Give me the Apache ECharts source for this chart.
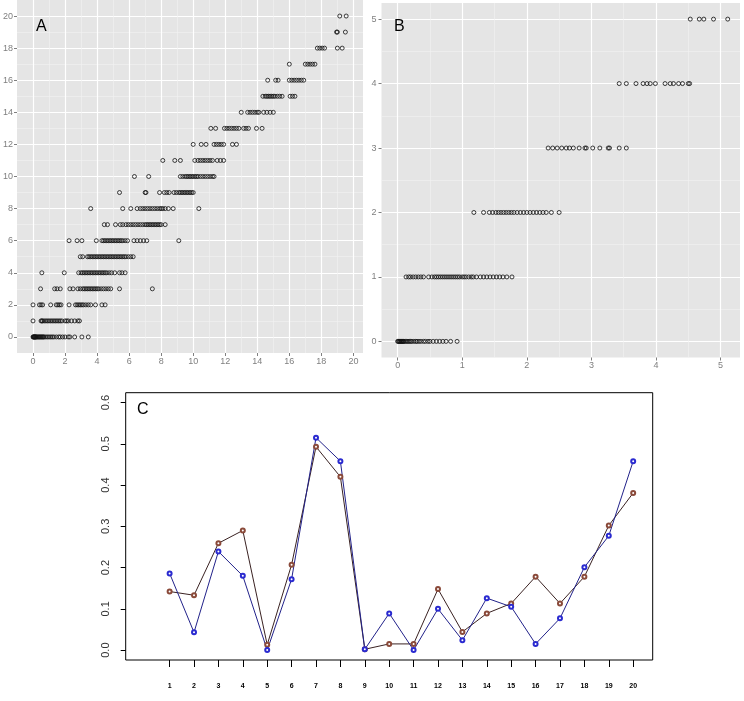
<!DOCTYPE html>
<html><head><meta charset="utf-8">
<script src="https://cdn.jsdelivr.net/npm/echarts@6/dist/echarts.min.js"></script>
<style>html,body{margin:0;padding:0;background:#fff}#c{width:744px;height:701px}</style>
</head><body><div id="c"></div>
<script>
// ---------- Panel A: x values observed at each integer y level ----------
const aYLevels = [0,1,2,3,4,5,6,7,8,9,10,11,12,13,14,15,16,17,18,19,20];
const aXByLevel = [
  [0,0.02,0.05,0.08,0.1,0.12,0.15,0.18,0.2,0.25,0.3,0.35,0.4,0.45,0.5,0.55,0.6,0.65,0.7,0.8,0.9,1.0,1.1,1.2,1.3,1.45,1.6,1.7,1.85,2.0,2.2,2.3,2.6,3.05,3.45],
  [0,0.5,0.55,0.6,0.7,0.8,0.9,1.0,1.1,1.2,1.3,1.4,1.5,1.6,1.7,1.8,2.0,2.1,2.2,2.4,2.6,2.8,2.9],
  [0,0.4,0.5,0.6,1.1,1.45,1.55,1.65,1.75,2.25,2.65,2.75,2.85,2.95,3.05,3.15,3.3,3.45,3.6,3.9,4.3,4.5],
  [0.47,1.35,1.5,1.7,2.3,2.5,2.8,2.95,3.1,3.2,3.3,3.4,3.5,3.6,3.7,3.8,3.9,4.0,4.1,4.25,4.4,4.55,4.7,4.85,5.4,7.45],
  [0.55,1.95,2.85,3.0,3.1,3.2,3.3,3.4,3.5,3.6,3.7,3.8,3.9,4.0,4.1,4.2,4.3,4.4,4.5,4.6,4.75,4.9,5.1,5.4,5.55,5.75],
  [2.95,3.1,3.4,3.5,3.6,3.7,3.8,3.9,4.0,4.1,4.2,4.3,4.4,4.5,4.6,4.7,4.8,4.9,5.0,5.1,5.2,5.3,5.4,5.5,5.6,5.7,5.8,5.95,6.1,6.25],
  [2.25,2.75,3.05,3.95,4.3,4.4,4.5,4.6,4.7,4.8,4.9,5.0,5.1,5.2,5.3,5.4,5.5,5.6,5.75,5.9,6.3,6.5,6.7,6.9,7.1,9.1],
  [4.45,4.65,5.15,5.45,5.6,5.8,5.95,6.1,6.25,6.4,6.55,6.7,6.85,7.0,7.1,7.2,7.3,7.4,7.5,7.6,7.7,7.8,7.9,8.0,8.25],
  [3.6,5.6,6.1,6.5,6.7,6.85,7.0,7.15,7.3,7.45,7.6,7.75,7.9,8.0,8.1,8.25,8.45,8.75,10.35],
  [5.4,7.0,7.05,7.9,8.2,8.35,8.5,8.8,8.95,9.1,9.2,9.3,9.4,9.5,9.6,9.7,9.8,9.9,10.0],
  [6.33,7.22,9.2,9.35,9.5,9.6,9.7,9.8,9.9,10.0,10.1,10.2,10.3,10.45,10.6,10.75,10.9,11.05,11.2,11.3],
  [8.1,8.85,9.2,10.1,10.3,10.45,10.6,10.75,10.9,11.05,11.2,11.5,11.7,11.9],
  [10.0,10.5,10.8,11.3,11.45,11.6,11.75,11.9,12.45,12.7],
  [11.1,11.4,11.95,12.1,12.25,12.4,12.55,12.7,12.85,13.15,13.3,13.45,13.95,14.3],
  [13.0,13.4,13.55,13.7,13.85,14.0,14.1,14.4,14.6,14.8,15.0],
  [14.35,14.5,14.6,14.7,14.8,14.9,15.0,15.1,15.25,15.4,15.55,16.05,16.2,16.35],
  [14.65,15.15,15.3,16.0,16.15,16.3,16.45,16.6,16.75,16.9],
  [16.0,17.0,17.15,17.3,17.45,17.6],
  [17.75,17.9,18.05,18.2,19.0,19.3],
  [18.95,19.0,19.5],
  [19.15,19.55]
];
// ---------- Panel B ----------
const bYLevels = [0,1,2,3,4,5];
const bXByLevel = [
  [0,0.01,0.02,0.03,0.04,0.05,0.06,0.07,0.08,0.09,0.1,0.12,0.14,0.16,0.18,0.2,0.22,0.25,0.28,0.3,0.33,0.36,0.4,0.43,0.47,0.5,0.55,0.6,0.65,0.7,0.75,0.82,0.92],
  [0.13,0.17,0.2,0.24,0.28,0.32,0.36,0.4,0.48,0.53,0.57,0.6,0.63,0.66,0.69,0.72,0.75,0.78,0.81,0.84,0.87,0.9,0.93,0.96,1.0,1.03,1.06,1.1,1.14,1.17,1.22,1.28,1.33,1.38,1.43,1.48,1.53,1.58,1.63,1.69,1.77],
  [1.18,1.33,1.42,1.47,1.52,1.56,1.6,1.64,1.68,1.72,1.76,1.8,1.85,1.9,1.95,2.0,2.05,2.1,2.15,2.2,2.25,2.3,2.38,2.5],
  [2.33,2.4,2.47,2.54,2.61,2.66,2.72,2.81,2.9,2.92,3.02,3.13,3.26,3.28,3.43,3.54],
  [3.43,3.54,3.69,3.8,3.86,3.91,3.99,4.14,4.22,4.27,4.35,4.41,4.5,4.52],
  [4.53,4.67,4.74,4.89,5.11]
];
// ---------- Panel C ----------
const cCategories = [1,2,3,4,5,6,7,8,9,10,11,12,13,14,15,16,17,18,19,20];
const cBlue  = [0.186,0.043,0.239,0.180,0.000,0.172,0.515,0.458,0.002,0.089,0.000,0.100,0.024,0.126,0.105,0.015,0.077,0.201,0.277,0.458];
const cBrown = [0.142,0.133,0.259,0.290,0.013,0.207,0.493,0.420,0.002,0.015,0.015,0.148,0.044,0.089,0.113,0.178,0.113,0.178,0.302,0.381];
// ---------- Tick labels ----------
const aMajorTicks = [0,2,4,6,8,10,12,14,16,18,20];
const aMinorTicks = [1,3,5,7,9,11,13,15,17,19];
const bMajorTicks = [0,1,2,3,4,5];
const bMinorTicks = [0.5,1.5,2.5,3.5,4.5];
const cYTicks = [0,0.1,0.2,0.3,0.4,0.5,0.6];

const aData = aXByLevel.flatMap((xs,i)=>xs.map(x=>[x,aYLevels[i]]));
const bData = bXByLevel.flatMap((xs,i)=>xs.map(x=>[x,bYLevels[i]]));

const GRAY='#7F7F7F';
function majorAxis(grid,min,max,ticks,margin){
  return {type:'value',gridIndex:grid,min:min,max:max,
    axisLine:{show:false,onZero:false},
    axisTick:{show:true,customValues:ticks,length:3,lineStyle:{color:GRAY,width:1}},
    axisLabel:{customValues:ticks,color:GRAY,fontSize:9,margin:margin,fontFamily:'Liberation Sans, Arial, sans-serif'},
    splitLine:{show:true,lineStyle:{color:'#FFFFFF',width:1.2}}};
}
function minorAxis(grid,min,max,ticks){
  return {type:'value',gridIndex:grid,min:min,max:max,
    axisLine:{show:false,onZero:false},
    axisTick:{show:false,customValues:ticks},
    axisLabel:{show:false,customValues:ticks},
    splitLine:{show:true,lineStyle:{color:'#F2F2F2',width:0.6}}};
}
const fmt = v => v.toFixed(1);
const option = {
  animation:false,
  backgroundColor:'#fff',
  title:[
    {text:'A',left:36,top:19,padding:0,textStyle:{fontSize:16,fontWeight:'normal',color:'#000',fontFamily:'Liberation Sans, Arial'}},
    {text:'B',left:394,top:19,padding:0,textStyle:{fontSize:16,fontWeight:'normal',color:'#000',fontFamily:'Liberation Sans, Arial'}},
    {text:'C',left:137,top:402,padding:0,textStyle:{fontSize:16,fontWeight:'normal',color:'#000',fontFamily:'Liberation Sans, Arial'}}
  ],
  grid:[
    {left:16,top:0,width:347,height:353,show:true,backgroundColor:'#E5E5E5',borderWidth:0},
    {left:381.5,top:3,width:358.5,height:354.5,show:true,backgroundColor:'#E5E5E5',borderWidth:0},
    {left:125.7,top:392.7,width:527,height:267.3,show:true,backgroundColor:'#fff',borderColor:'#000',borderWidth:1}
  ],
  xAxis:[
    majorAxis(0,-1,20.6,aMajorTicks,4),
    minorAxis(0,-1,20.6,aMinorTicks),
    majorAxis(1,-0.25,5.3,bMajorTicks,4),
    minorAxis(1,-0.25,5.3,bMinorTicks),
    {type:'value',gridIndex:2,min:-0.8,max:20.8,
      axisLine:{show:false,onZero:false},
      axisTick:{show:true,customValues:cCategories,length:7,lineStyle:{color:'#000',width:1}},
      axisLabel:{customValues:cCategories,color:'#000',fontSize:7,fontWeight:'bold',margin:23,fontFamily:'Liberation Sans, Arial'},
      splitLine:{show:false}}
  ],
  yAxis:[
    majorAxis(0,-1,21,aMajorTicks,4),
    minorAxis(0,-1,21,aMinorTicks),
    majorAxis(1,-0.25,5.25,bMajorTicks,5),
    minorAxis(1,-0.25,5.25,bMinorTicks),
    {type:'value',gridIndex:2,min:-0.024,max:0.624,
      axisLine:{show:false,onZero:false},
      axisTick:{show:true,customValues:cYTicks,length:5,lineStyle:{color:'#000',width:1}},
      axisLabel:{customValues:cYTicks,color:'#333',fontSize:11,rotate:90,margin:14,formatter:fmt,fontFamily:'Liberation Sans, Arial'},
      splitLine:{show:false}}
  ],
  series:[
    {type:'scatter',xAxisIndex:0,yAxisIndex:0,data:aData,symbol:'circle',symbolSize:4,
      itemStyle:{color:'rgba(0,0,0,0)',borderColor:'#111',borderWidth:1}},
    {type:'scatter',xAxisIndex:2,yAxisIndex:2,data:bData,symbol:'circle',symbolSize:4,
      itemStyle:{color:'rgba(0,0,0,0)',borderColor:'#111',borderWidth:1}},
    {type:'line',xAxisIndex:4,yAxisIndex:4,data:cCategories.map((c,i)=>[c,cBrown[i]]),
      symbol:'emptyCircle',symbolSize:4,showAllSymbol:true,
      lineStyle:{color:'#3a2222',width:1},itemStyle:{color:'#8a4a3a',borderWidth:0.9}},
    {type:'line',xAxisIndex:4,yAxisIndex:4,data:cCategories.map((c,i)=>[c,cBlue[i]]),
      symbol:'emptyCircle',symbolSize:4,showAllSymbol:true,
      lineStyle:{color:'#22228a',width:1},itemStyle:{color:'#2a2ad0',borderWidth:0.9}}
  ]
};
echarts.init(document.getElementById('c'),null,{renderer:'canvas'}).setOption(option);
</script></body></html>
